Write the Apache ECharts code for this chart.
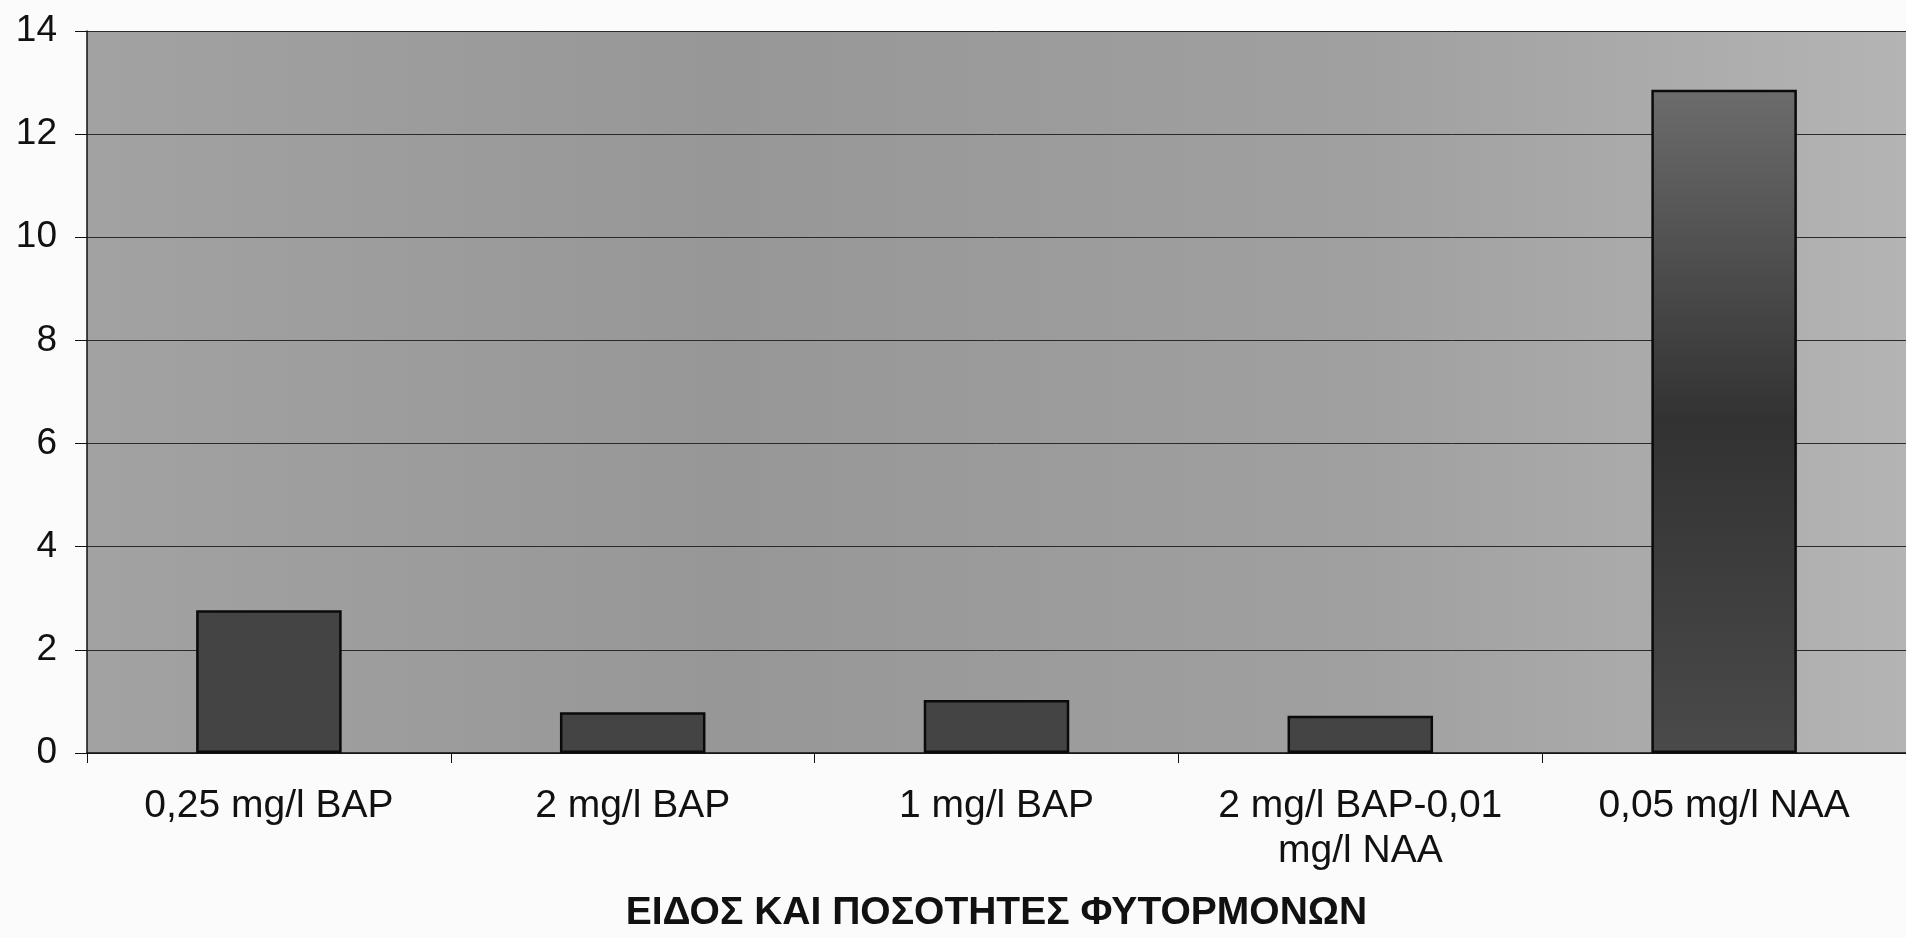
<!DOCTYPE html>
<html>
<head>
<meta charset="utf-8">
<script src="https://cdn.jsdelivr.net/npm/echarts@6/dist/echarts.min.js"></script>
<style>html,body{margin:0;padding:0;background:#fbfbfb;}#c{width:1906px;height:938px;}</style>
</head>
<body>
<div id="c"></div>
<script>
const categories = ['0,25 mg/l BAP', '2 mg/l BAP', '1 mg/l BAP', '2 mg/l BAP-0,01\nmg/l NAA', '0,05 mg/l NAA'];
const values = [2.77, 0.79, 1.03, 0.72, 12.86];
const yTicks = { min: 0, max: 14, interval: 2 };
const xTitle = 'ΕΙΔΟΣ ΚΑΙ ΠΟΣΟΤΗΤΕΣ ΦΥΤΟΡΜΟΝΩΝ';

const chart = echarts.init(document.getElementById('c'));
const font = 'Liberation Sans, Arial, sans-serif';
const tallGradient = new echarts.graphic.LinearGradient(0, 0, 0, 1, [
  { offset: 0, color: '#6c6c6c' },
  { offset: 0.5, color: '#323232' },
  { offset: 1, color: '#4a4a4a' }
]);
chart.setOption({
  backgroundColor: '#fbfbfb',
  animation: false,
  grid: {
    left: 87, right: 0, top: 31, bottom: 185,
    show: true,
    borderWidth: 0,
    backgroundColor: new echarts.graphic.LinearGradient(0, 0, 1, 0, [
      { offset: 0, color: '#a2a2a2' },
      { offset: 0.35, color: '#979797' },
      { offset: 0.7, color: '#a0a0a0' },
      { offset: 1, color: '#b4b4b4' }
    ])
  },
  xAxis: {
    type: 'category',
    data: categories,
    name: xTitle,
    nameLocation: 'middle',
    nameGap: 141,
    nameTextStyle: { fontFamily: font, fontSize: 39, fontWeight: 'bold', color: '#111' },
    axisLine: { lineStyle: { color: '#111', width: 1.5 } },
    axisTick: { show: true, interval: 0, length: 10, lineStyle: { color: '#111' } },
    axisLabel: { interval: 0, hideOverlap: false, fontFamily: font, fontSize: 39, color: '#111', margin: 31, lineHeight: 45 }
  },
  yAxis: {
    type: 'value',
    min: yTicks.min, max: yTicks.max, interval: yTicks.interval,
    axisLine: { show: true, lineStyle: { color: '#111', width: 1.5 } },
    axisTick: { show: true, length: 12, lineStyle: { color: '#111' } },
    axisLabel: { fontFamily: font, fontSize: 37, color: '#111', margin: 30 },
    splitLine: { show: true, lineStyle: { color: '#2a2a2a', width: 1 } }
  },
  series: [{
    type: 'bar',
    data: values.map((v, i) => i === values.length - 1 ? { value: v, itemStyle: { color: tallGradient } } : v),
    barWidth: '40%',
    itemStyle: {
      color: '#444444',
      borderColor: '#0a0a0a',
      borderWidth: 2.5
    }
  }]
});
</script>
</body>
</html>
